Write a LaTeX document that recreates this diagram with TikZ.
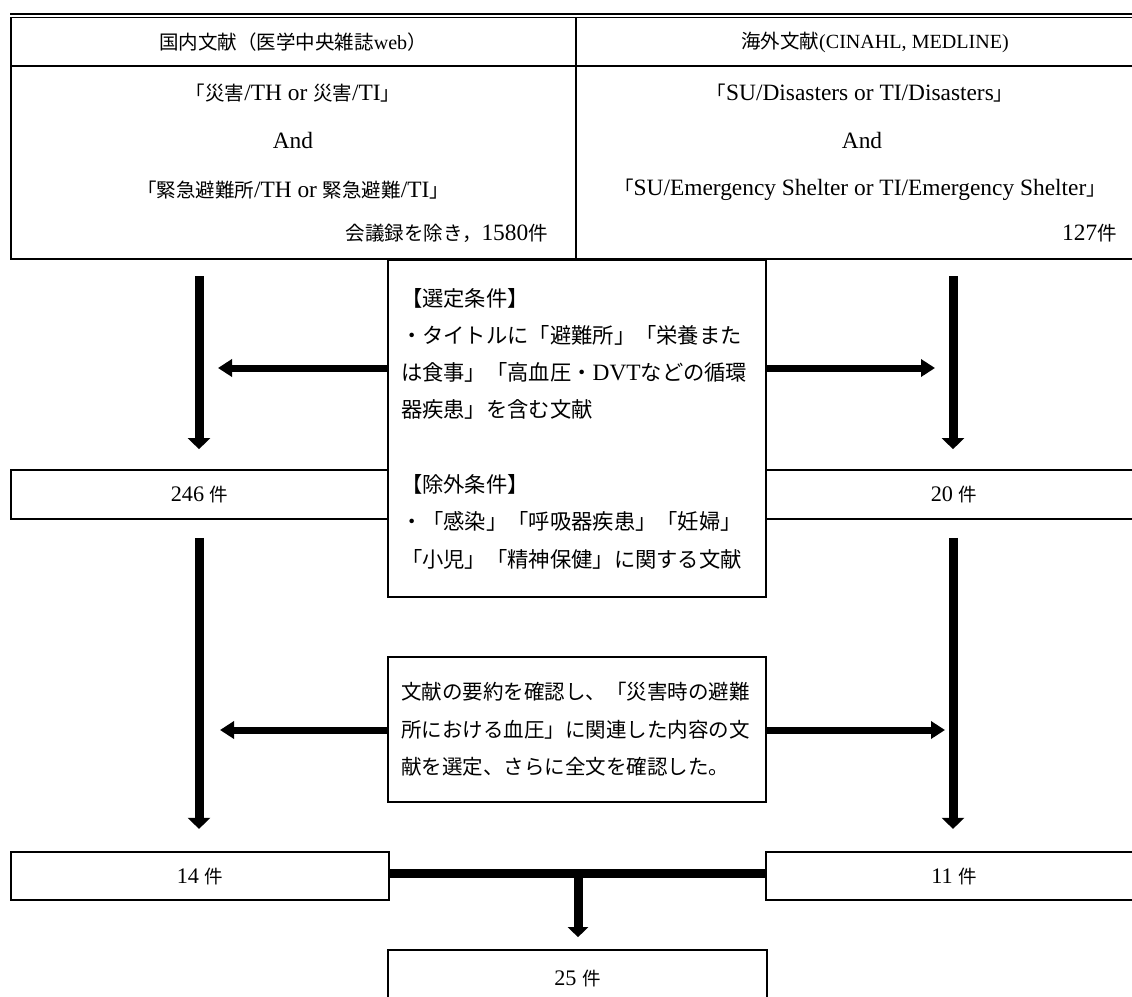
\documentclass[tikz,border=0pt]{standalone}
\usepackage{fontspec}
\setmainfont{Liberation Serif}[Scale=1.2]
\newfontfamily\hdr{Liberation Serif}[Scale=1.03]
\newfontfamily\jp{Noto Sans CJK JP}
\usetikzlibrary{arrows.meta}
\newcommand\J[1]{{\jp #1}}
\begin{document}
\begin{tikzpicture}[x=1pt,y=-1pt,
  rule/.style={line width=1.6pt},
  fbox/.style={draw, line width=1.7pt, inner sep=0pt, fill=white},
  t19/.style={inner sep=0pt, font=\fontsize{19.5}{23}\selectfont},
  cnt/.style={inner sep=0pt, font=\fontsize{18.5}{22}\selectfont},
  vflow/.style={line width=9pt, -{Triangle[width=22pt,length=11pt]}},
  hflow/.style={line width=7pt, -{Triangle[width=17pt,length=14pt]}},
]
\useasboundingbox (0,0) rectangle (1132,996);
\fill[white] (0,0) rectangle (1132,996);

% ---- search table ----
\draw[line width=2pt] (10,14.3) -- (1132,14.3);
\draw[rule] (10.2,17.5) -- (1132,17.5);
\draw[rule] (11,17.5) -- (11,259);
\draw[rule] (10.2,66) -- (1132,66);
\draw[rule] (10.2,259) -- (1132,259);
\draw[rule] (576,17.5) -- (576,259);

\node[t19] (hL) at (293,42) {\J{国内文献（医学中央雑誌}{\hdr web}\J{）}};
\node[t19] (hR) at (875,42) {\J{海外文献}{\hdr (CINAHL, MEDLINE)}};
\node[t19] (l1) at (293,93) {\J{「災害}/TH or \J{災害}/TI\J{」}};
\node[t19] (l2) at (293,140) {And};
\node[t19] (l3) at (293,190) {\J{「緊急避難所}/TH or \J{緊急避難}/TI\J{」}};
\node[t19, anchor=east] (l4) at (548,233) {\J{会議録を除き，}1580\J{件}};
\node[t19] (r1) at (860,93) {\J{「}SU/Disasters or TI/Disasters\J{」}};
\node[t19] (r2) at (862,140) {And};
\node[t19, anchor=east] (r3) at (1106,190) {\J{「}SU/Emergency Shelter or TI/Emergency Shelter\J{」}};
\node[t19, anchor=east] (r4) at (1117,233) {127\J{件}};

% ---- criteria boxes ----
\node[fbox, minimum width=378pt, minimum height=337pt, text width=352pt, align=left,
      font=\fontsize{21.3}{37.3}\selectfont] (crit) at (577,428.5)
 {\J{【選定条件】}\\
  \J{・タイトルに「避難所」「栄養また}\\
  \J{は食事」「高血圧・}{\fontsize{19.5}{37.3}\selectfont DVT}\J{などの循環}\\
  \J{器疾患」を含む文献}\\
  \mbox{}\\
  \J{【除外条件】}\\
  \J{・「感染」「呼吸器疾患」「妊婦」}\\
  \J{「小児」「精神保健」に関する文献}};

\node[fbox, minimum width=378pt, minimum height=145pt, text width=352pt, align=left,
      font=\fontsize{20.5}{37.5}\selectfont] (rev) at (577,729.5)
 {\J{文献の要約を確認し、「災害時の避難}\\
  \J{所における血圧」に関連した内容の文}\\
  \J{献を選定、さらに全文を確認した。}};

% ---- count boxes ----
\node[fbox, cnt, minimum width=377pt, minimum height=49pt] (n246) at (199.5,494.5) {246 \J{件}};
\node[fbox, cnt, minimum width=376pt, minimum height=49pt] (n20) at (954,494.5) {20 \J{件}};
\node[fbox, cnt, minimum width=378pt, minimum height=48.5pt] (n14) at (200,876) {14 \J{件}};
\node[fbox, cnt, minimum width=376pt, minimum height=48.5pt] (n11) at (954,876) {11 \J{件}};
\node[fbox, cnt, minimum width=379pt, minimum height=56pt] (n25) at (577.5,978) {25 \J{件}};

% ---- connectors ----
\coordinate (v1l) at (199,276);
\coordinate (v1r) at (953,276);
\draw[vflow, shorten >=20pt] (v1l) -- (v1l |- n246.north);
\draw[vflow, shorten >=20pt] (v1r) -- (v1r |- n20.north);
\draw[vflow, shorten <=18pt, shorten >=22pt] (v1l |- n246.south) -- (v1l |- n14.north);
\draw[vflow, shorten <=18pt, shorten >=22pt] (v1r |- n20.south) -- (v1r |- n11.north);

\coordinate (h1l) at (218,368);
\coordinate (h1r) at (935,368);
\draw[hflow] (crit.west |- h1l) -- (h1l);
\draw[hflow] (crit.east |- h1r) -- (h1r);

\coordinate (h2l) at (220,730);
\coordinate (h2r) at (945,730);
\draw[hflow] (rev.west |- h2l) -- (h2l);
\draw[hflow] (rev.east |- h2r) -- (h2r);

\coordinate (jn) at (578,873.5);
\draw[line width=9pt] (n14.east |- jn) -- (n11.west |- jn);
\draw[line width=9pt, -{Triangle[width=20pt,length=10pt]}, shorten >=12pt] (jn) -- (jn |- n25.north);
\end{tikzpicture}
\end{document}
